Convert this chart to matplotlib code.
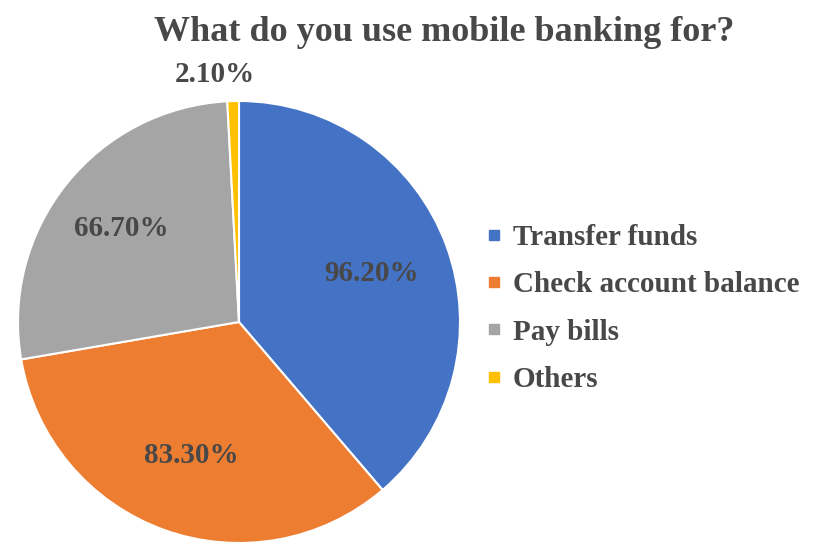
import matplotlib.pyplot as plt
import numpy as np
from matplotlib.lines import Line2D

# survey answers (percent of respondents)
labels = ["Transfer funds", "Check account balance", "Pay bills", "Others"]
values = [96.2, 83.3, 66.7, 2.1]
colors = ["#4472C4", "#ED7D31", "#A5A5A5", "#FFC000"]
label_dist = [0.64, 0.64, 0.68, 1.12]

plt.rcParams["font.family"] = ["Liberation Serif", "DejaVu Serif"]
plt.rcParams["font.weight"] = "bold"
text_color = "#484848"

fig = plt.figure(figsize=(8.19, 5.43), dpi=100)
ax = fig.add_axes([18 / 819, 0.0, 442 / 819, 442 / 543])

wedges, _ = ax.pie(values, colors=colors, startangle=90, counterclock=False,
                   wedgeprops=dict(edgecolor="white", linewidth=1.5))
ax.set_xlim(-1, 1)
ax.set_ylim(-1, 1)
ax.set_aspect("equal")

for w, v, d in zip(wedges, values, label_dist):
    ang = np.deg2rad((w.theta1 + w.theta2) / 2)
    ax.text(d * np.cos(ang) - (0.08 if v < 5 else 0), d * np.sin(ang), f"{v:.2f}%",
            ha="center", va="center", fontsize=21, fontweight="bold", color=text_color)

fig.text(0.542, 0.94, "What do you use mobile banking for?", ha="center", va="center",
         fontsize=26, fontweight="bold", color=text_color)

handles = [Line2D([], [], marker="s", linestyle="none", markersize=7,
                  markerfacecolor=c, markeredgecolor=c) for c in colors]
leg = fig.legend(handles, labels, loc="center left", bbox_to_anchor=(0.562, 0.432),
                 frameon=False, fontsize=21, handlelength=0.5, handletextpad=0.4,
                 labelspacing=0.7, labelcolor=text_color)

fig.savefig("out.png", dpi=100)
